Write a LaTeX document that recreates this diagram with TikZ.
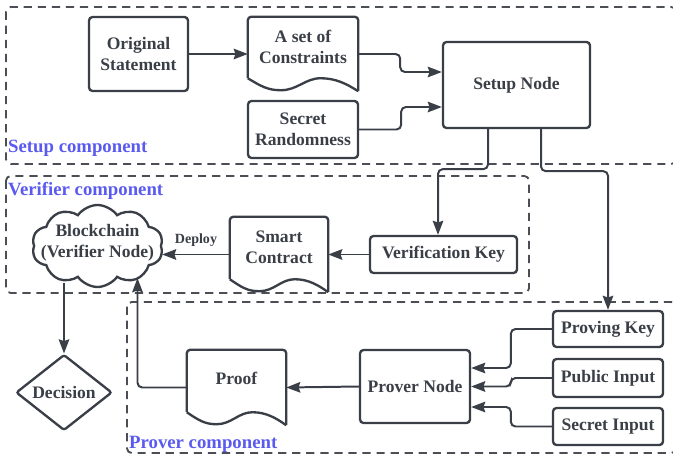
\documentclass[tikz,border=0pt]{standalone}
\usepackage{fontspec}
\setmainfont{Liberation Serif}
\usetikzlibrary{calc,arrows.meta,shapes.geometric,shapes.symbols}
\definecolor{LineGray}{HTML}{3A3F47}
\definecolor{ZoneGray}{HTML}{4B4E54}
\definecolor{ZoneBlue}{HTML}{5A5AF0}
\newcommand{\boxfont}{\bfseries\fontsize{15}{18}\selectfont}
% document shape: straight top and sides, wavy bottom
\newcommand{\docshape}[1]{%
  \draw[boxline,rounded corners=3pt] ($(#1.south west)+(0,-13)$) -- (#1.north west)
    -- (#1.north east) -- (#1.south east);
  \draw[boxline] ($(#1.south west)+(0,-13)$)
    .. controls ($(#1.south west)!0.12!(#1.south east)+(0,-5)$) and ($(#1.south west)!0.18!(#1.south east)+(0,-1)$)
    .. ($(#1.south west)!0.3!(#1.south east)+(0,-1)$)
    .. controls ($(#1.south west)!0.45!(#1.south east)+(0,-1)$) and ($(#1.south west)!0.52!(#1.south east)+(0,-13)$)
    .. ($(#1.south west)!0.66!(#1.south east)+(0,-13)$)
    .. controls ($(#1.south west)!0.8!(#1.south east)+(0,-13)$) and ($(#1.south west)!0.9!(#1.south east)+(0,-7)$)
    .. (#1.south east);}

\begin{document}
\begin{tikzpicture}[x=0.03cm,y=-0.03cm,
  box/.style={draw=LineGray,line width=2pt,rounded corners=3pt,text=LineGray,
    font=\boxfont,align=center,inner sep=2pt},
  boxline/.style={draw=LineGray,line width=2pt},
  doc/.style={inner sep=0pt},
  doctext/.style={text=LineGray,font=\boxfont,align=center,yshift=0.22cm},
  arr/.style={LineGray,line width=1.7pt,rounded corners=4pt,
    -{Stealth[length=12pt,width=9pt,inset=1.5pt]}},
  zone/.style={ZoneGray,line width=1.6pt,dash pattern=on 7pt off 5pt,rounded corners=4pt},
  zonelbl/.style={ZoneBlue,font=\bfseries\fontsize{16}{18}\selectfont,anchor=base west,inner sep=0pt}]
  \useasboundingbox (0,0) rectangle (673,457);
  \clip (0,0) rectangle (673,457);

  % --- component frames ---
  \draw[zone] (6,7) rectangle (676,164);
  \draw[zone] (6,176) rectangle (529,293);
  \draw[zone] (127,302) rectangle (676,453);
  \node[zonelbl] (setuplbl) at (8,153) {Setup component};
  \node[zonelbl] (veriflbl) at (8,196) {Verifier component};
  \node[zonelbl] (proverlbl) at (129,448) {Prover component};

  % --- setup ---
  \node[box,minimum width=2.97cm,minimum height=2.22cm] (orig) at (138.5,54) {Original\\Statement};
  \node[doc,minimum width=3.3cm,minimum height=2.22cm] (cons) at (303,54) {};
  \docshape{cons}
  \node[doctext] (cons-t) at (cons) {A set of\\Constraints};
  \node[box,minimum width=3.3cm,minimum height=1.71cm] (rand) at (303,129.5) {Secret\\Randomness};
  \node[box,minimum width=4.41cm,minimum height=2.58cm] (setup) at (516.5,85) {Setup Node};

  % --- verifier ---
  \node[box,minimum width=4.41cm,minimum height=1.11cm] (vkey) at (443.5,254.5) {Verification Key};
  \node[doc,minimum width=2.94cm,minimum height=2.25cm] (contract) at (279,254.5) {};
  \docshape{contract}
  \node[doctext] (contract-t) at (contract) {Smart\\Contract};
  \node[cloud,draw=LineGray,line width=2pt,cloud puffs=10,cloud puff arc=110,cloud ignores aspect,
    minimum width=3.93cm,minimum height=2.46cm,inner sep=0pt] (chain) at (97.5,246) {};
  \node[text=LineGray,font=\boxfont,align=center] (chain-t) at (97.5,243) {Blockchain\\(Verifier Node)};
  \node[diamond,draw=LineGray,line width=2pt,rounded corners=2pt,inner sep=0pt,
    minimum width=2.88cm,minimum height=2.13cm,text=LineGray,font=\boxfont] (decide) at (64,392.5) {Decision};

  % --- prover ---
  \node[doc,minimum width=2.97cm,minimum height=2.25cm] (proof) at (236.5,387.5) {};
  \docshape{proof}
  \node[doctext,yshift=0.06cm] (proof-t) at (proof) {Proof};
  \node[box,minimum width=3.3cm,minimum height=2.19cm] (prover) at (415,386.5) {Prover Node};
  \node[box,minimum width=3.3cm,minimum height=1.08cm] (pkey) at (608,329) {Proving Key};
  \node[box,minimum width=3.3cm,minimum height=1.14cm] (pub) at (608,378) {Public Input};
  \node[box,minimum width=3.3cm,minimum height=1.11cm] (sec) at (608,426.5) {Secret Input};

  % --- connectors ---
  \draw[arr] (orig.east) -- (cons.west);
  \draw[arr] (cons.east) -- ++(42,0) |- ([yshift=0.39cm]setup.west);
  \draw[arr] (rand.east) -- ++(42,0) |- ([yshift=-0.66cm]setup.west);
  \draw[arr] ([xshift=-0.855cm]setup.south) -- ++(0,40) -| ([xshift=-0.165cm]vkey.north);
  \draw[arr] ([xshift=0.735cm]setup.south) -- ++(0,42) -| (pkey.north);
  \draw[arr] (vkey.west) -- (contract.east);
  \draw[arr] (contract.west) -- (chain.east |- contract.west)
    node[midway,above=3pt,font=\bfseries\fontsize{12}{14}\selectfont,text=LineGray] (deploy) {Deploy};
  \draw[arr] ([yshift=0.15cm]chain.south -| decide.north) -- (decide.north);
  \draw[arr] (proof.west) -| ([xshift=1.2cm,yshift=0.3cm]chain.south);
  \draw[arr] (prover.west) -- (proof.east);
  \draw[arr] (pkey.west) -- ++(-41,0) |- ([yshift=0.555cm]prover.east);
  \draw[arr] (pub.west) -- ++(-41,0) |- (prover.east);
  \draw[arr] (sec.west) -- ++(-41,0) |- ([yshift=-0.615cm]prover.east);
\end{tikzpicture}
\end{document}
